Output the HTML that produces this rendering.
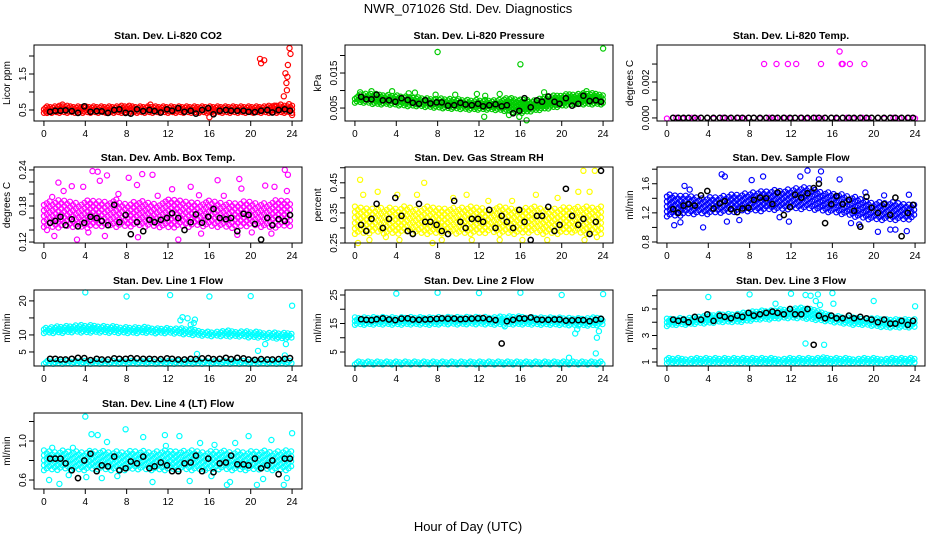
<!DOCTYPE html>
<html><head><meta charset="utf-8"><style>
html,body{margin:0;padding:0;background:#fff;}
svg{display:block;font-family:"Liberation Sans",sans-serif;}
</style></head><body>
<svg id="c" width="936" height="540" viewBox="0 0 936 540">
<text x="468" y="13" text-anchor="middle" font-size="13">NWR_071026 Std. Dev. Diagnostics</text>
<text x="468" y="531" text-anchor="middle" font-size="13">Hour of Day (UTC)</text>
</svg>
<script>
// shared x positions (hour) for black points
const blackX=[0.6,1.1,1.6,2.1,2.7,3.3,3.9,4.5,5.1,5.6,6.2,6.8,7.3,7.9,8.4,9.0,9.6,10.2,10.7,11.3,11.9,12.4,13.0,13.6,14.2,14.7,15.3,15.9,16.4,17.0,17.6,18.1,18.7,19.3,19.8,20.4,21.0,21.6,22.1,22.7,23.3,23.8];
const xTicks=[0,4,8,12,16,20,24];
const bandHours=[0,1,2,3,4,5,6,7,8,9,10,11,12,13,14,15,16,17,18,19,20,21,22,23,24];

const co2Black=[0.45,0.48,0.48,0.49,0.47,0.42,0.6,0.45,0.47,0.46,0.42,0.5,0.52,0.42,0.4,0.52,0.47,0.5,0.47,0.43,0.52,0.48,0.55,0.45,0.48,0.4,0.5,0.55,0.38,0.48,0.5,0.48,0.48,0.48,0.45,0.44,0.48,0.5,0.43,0.5,0.52,0.48];
const co2Lo=[0.42,0.42,0.42,0.42,0.42,0.42,0.42,0.42,0.42,0.42,0.42,0.42,0.42,0.42,0.42,0.42,0.42,0.42,0.42,0.42,0.42,0.42,0.42,0.42,0.42];
const co2Hi=[0.6,0.6,0.62,0.6,0.6,0.6,0.6,0.6,0.62,0.6,0.6,0.6,0.6,0.6,0.6,0.6,0.6,0.6,0.6,0.6,0.6,0.6,0.62,0.62,0.62];
const co2Out=[[0.3,0.42],[1.8,0.65],[10.3,0.65],[16,0.3],[20.9,1.92],[21,1.8],[21.3,1.88],[22.3,0.62],[23.2,0.88],[23.35,1.52],[23.45,1.25],[23.5,1.05],[23.55,1.42],[23.6,1.75],[23.7,0.66],[23.75,2.22],[23.85,2.06],[24,0.36],[22.9,0.65]];

const presBlack=[0.0082,0.0075,0.0075,0.0088,0.0072,0.0072,0.0068,0.0078,0.0073,0.0065,0.0062,0.0072,0.0063,0.0066,0.0066,0.0057,0.0058,0.0065,0.006,0.0058,0.0062,0.0055,0.0058,0.0061,0.0055,0.0058,0.0035,0.0042,0.0078,0.0052,0.0072,0.0068,0.0083,0.0068,0.0062,0.0078,0.0057,0.0062,0.0085,0.007,0.0072,0.0068];
const presLo=[0.0065,0.0065,0.006,0.006,0.0058,0.0055,0.0055,0.0052,0.005,0.0048,0.0047,0.0045,0.0045,0.0045,0.0043,0.004,0.0035,0.004,0.0045,0.005,0.0055,0.006,0.006,0.006,0.006];
const presHi=[0.0085,0.009,0.009,0.0088,0.0085,0.0083,0.008,0.0078,0.0077,0.0075,0.0075,0.0073,0.0072,0.0072,0.0075,0.0078,0.0075,0.007,0.0078,0.0085,0.0088,0.009,0.0092,0.0092,0.009];
const presOut=[[8,0.021],[16,0.0175],[24,0.022],[0.5,0.0095],[1.6,0.0098],[3.6,0.0098],[5.2,0.0092],[5.8,0.0094],[7.8,0.0088],[9.7,0.0088],[11.8,0.009],[12.6,0.0085],[14,0.009],[15.9,0.0025],[16.6,0.0015],[12.5,0.0025],[18.3,0.0095],[22.4,0.0098],[14.9,0.003]];

const tempBlack=[0,0,0,0,0,0,0,0,0,0,0,0,0,0,0,0,0,0,0,0,0,0,0,0,0,0,0,0,0,0,0,0,0,0,0,0,0,0,0,0,0,0];
const tempLo=[-0.00003,-0.00003,-0.00003,-0.00003,-0.00003,-0.00003,-0.00003,-0.00003,-0.00003,-0.00003,-0.00003,-0.00003,-0.00003,-0.00003,-0.00003,-0.00003,-0.00003,-0.00003,-0.00003,-0.00003,-0.00003,-0.00003,-0.00003,-0.00003,-0.00003];
const tempHi=[0.00003,0.00003,0.00003,0.00003,0.00003,0.00003,0.00003,0.00003,0.00003,0.00003,0.00003,0.00003,0.00003,0.00003,0.00003,0.00003,0.00003,0.00003,0.00003,0.00003,0.00003,0.00003,0.00003,0.00003,0.00003];
const tempOut=[[9.4,0.003],[10.6,0.003],[11.7,0.003],[12.5,0.003],[14.9,0.003],[16.7,0.0037],[16.9,0.003],[17.0,0.003],[17.7,0.003],[19.1,0.003]];

const ambBlack=[0.152,0.155,0.162,0.148,0.158,0.146,0.152,0.162,0.16,0.155,0.148,0.182,0.153,0.165,0.133,0.153,0.138,0.157,0.153,0.157,0.16,0.168,0.16,0.14,0.153,0.166,0.152,0.162,0.175,0.16,0.158,0.16,0.138,0.167,0.165,0.15,0.124,0.16,0.148,0.158,0.155,0.165];
const ambLo=[0.145,0.143,0.145,0.145,0.143,0.145,0.147,0.145,0.145,0.147,0.145,0.145,0.143,0.145,0.145,0.147,0.145,0.145,0.143,0.145,0.147,0.145,0.143,0.145,0.147];
const ambHi=[0.185,0.19,0.188,0.185,0.19,0.19,0.188,0.19,0.185,0.19,0.188,0.185,0.19,0.19,0.188,0.185,0.19,0.188,0.185,0.188,0.19,0.185,0.188,0.19,0.185];
const ambOut=[[1.4,0.219],[1.9,0.205],[2.7,0.213],[3.8,0.212],[4.7,0.238],[5.2,0.237],[5.4,0.222],[6.1,0.231],[8.2,0.227],[9.0,0.215],[9.5,0.233],[10.5,0.232],[12.4,0.208],[14.2,0.212],[16.8,0.223],[18.9,0.225],[19.1,0.209],[21.4,0.214],[22.3,0.212],[23.3,0.24],[23.6,0.232],[23.5,0.205],[0.3,0.14],[1.0,0.13],[3.2,0.124],[4.3,0.136],[5.9,0.13],[9.1,0.128],[13.0,0.124],[15.2,0.134],[18.7,0.132],[20.1,0.136],[22.0,0.134],[0.8,0.195],[7.2,0.2],[11.0,0.197],[15.0,0.198],[17.4,0.197]];

const rhBlack=[0.31,0.29,0.33,0.38,0.3,0.33,0.4,0.34,0.29,0.28,0.38,0.32,0.32,0.31,0.29,0.28,0.39,0.32,0.3,0.33,0.33,0.32,0.36,0.3,0.34,0.32,0.3,0.36,0.32,0.26,0.34,0.34,0.37,0.29,0.31,0.43,0.34,0.31,0.33,0.28,0.32,0.49];
const rhLo=[0.28,0.28,0.285,0.28,0.28,0.285,0.28,0.28,0.28,0.285,0.28,0.28,0.28,0.285,0.28,0.28,0.28,0.285,0.28,0.28,0.28,0.285,0.28,0.28,0.28];
const rhHi=[0.37,0.37,0.36,0.37,0.37,0.37,0.36,0.37,0.37,0.36,0.37,0.37,0.37,0.36,0.37,0.37,0.36,0.37,0.37,0.36,0.37,0.37,0.37,0.37,0.37];
const rhOut=[[0.3,0.25],[0.5,0.46],[0.8,0.41],[2.2,0.42],[4.1,0.41],[1.4,0.26],[4.3,0.26],[6.0,0.41],[6.7,0.45],[8.4,0.26],[10.8,0.41],[11.3,0.26],[14.0,0.26],[15.2,0.39],[16.2,0.26],[17.5,0.41],[18.6,0.26],[19.6,0.4],[21.6,0.42],[22.1,0.49],[22.2,0.26],[23.2,0.49],[23.4,0.27],[22.7,0.42],[7.5,0.25],[12.9,0.39],[9.5,0.4],[3.0,0.27]];

const sfBlack=[1.25,1.2,1.3,1.32,1.3,1.44,1.5,1.26,1.33,1.36,1.25,1.21,1.26,1.27,1.38,1.41,1.4,1.32,1.48,1.17,1.28,1.45,1.41,1.47,1.54,1.6,1.06,1.32,1.43,1.32,1.38,1.23,1.01,1.42,1.27,1.2,1.32,1.17,1.41,0.88,1.2,1.31];
const sfLo=[1.15,1.15,1.18,1.18,1.18,1.2,1.2,1.22,1.22,1.22,1.24,1.24,1.25,1.25,1.25,1.22,1.2,1.18,1.15,1.12,1.1,1.1,1.1,1.1,1.12];
const sfHi=[1.45,1.45,1.45,1.42,1.42,1.42,1.45,1.45,1.48,1.5,1.5,1.52,1.52,1.55,1.55,1.5,1.48,1.45,1.42,1.38,1.35,1.35,1.35,1.33,1.33];
const sfOut=[[0.7,1.03],[1.3,1.07],[1.7,1.57],[3.5,1.0],[5.3,1.73],[5.6,1.7],[5.8,1.08],[8.2,1.65],[9.3,1.7],[11.8,1.08],[12.9,1.7],[13.6,1.78],[14.7,1.66],[14.9,1.77],[16.7,1.66],[17.8,1.06],[18.6,1.04],[20.4,0.94],[21.0,1.44],[21.6,0.97],[22.1,0.97],[23.2,0.95],[23.4,1.45],[19.2,1.48],[10.9,1.14],[2.2,1.52],[7.0,1.1]];

const l1Black=[3,3,2.8,2.8,3,3.3,3.2,2.6,3,2.8,2.8,3.1,3,3,3.2,3.1,3,3,2.9,2.9,3.1,3,2.8,2.8,3,2.9,3.1,3.2,2.9,3,3.3,2.9,3.3,3.1,2.8,2.7,2.9,2.8,2.8,2.9,3,3.2];
const l1UpLo=[10.5,10.5,10.6,10.8,10.6,10.7,10.6,10.6,10.5,10.5,10.6,10.4,10.5,10.3,10,9.8,9.6,9.6,9.5,9.5,9.2,9.2,9,8.8,9];
const l1UpHi=[12.2,12.4,12.6,12.8,12.8,12.8,12.6,12.4,12.3,12.3,12.3,12,12,12,11.8,11.2,11,11,11.2,11,11,10.8,10.6,10.6,10.5];
const l1LoLo=[1.5,1.5,1.5,1.5,1.5,1.5,1.5,1.5,1.5,1.5,1.5,1.5,1.5,1.5,1.5,1.5,1.5,1.5,1.5,1.5,1.5,1.5,1.5,1.5,1.5];
const l1LoHi=[2.4,2.4,2.4,2.4,2.4,2.4,2.4,2.4,2.4,2.4,2.4,2.4,2.4,2.4,2.4,2.4,2.4,2.4,2.4,2.4,2.4,2.4,2.4,2.4,2.4];
const l1Out=[[4,22.5],[8,21.3],[12.2,21.7],[16,21.3],[20,21.4],[24,18.6],[13.2,14.3],[13.4,15.2],[13.9,14.9],[14.5,13.5],[14.6,14.5],[14.2,13],[14.8,4.4],[20.7,5.3],[21.4,7.3],[23.3,4],[23.4,7.3]];

const l2Black=[16.5,16.3,16.2,16.5,16.8,16.4,16.2,16.7,16.8,16.4,16.3,16.4,16.5,16.6,16.8,16.7,16.7,16.5,16.6,16.7,16.8,16.9,16.5,16.2,8,15.8,16.3,16.8,16.7,17.1,16.4,16.3,16.3,16.4,16.4,16,16.1,16.2,16.2,15.8,16.3,16.6];
const l2UpLo=[14.5,14.5,14.6,14.6,14.5,14.6,14.6,14.5,14.6,14.7,14.6,14.7,14.7,14.6,14.5,14.6,14.6,14.6,14.5,14.5,14.4,14.3,14.2,14.2,14.5];
const l2UpHi=[17,17,17.1,17.2,17.2,17.2,17.1,17.1,17.2,17.3,17.3,17.3,17.4,17.3,17.4,17.4,17.4,17.3,17.2,17.1,17,16.9,16.9,17,17.2];
const l2LoLo=[0.6,0.6,0.6,0.6,0.6,0.6,0.6,0.6,0.6,0.6,0.6,0.6,0.6,0.6,0.6,0.6,0.6,0.6,0.6,0.6,0.6,0.6,0.6,0.6,0.6];
const l2LoHi=[1.6,1.6,1.6,1.6,1.6,1.6,1.6,1.6,1.6,1.6,1.6,1.6,1.6,1.6,1.6,1.6,1.6,1.6,1.6,1.6,1.6,1.6,1.6,1.6,1.6];
const l2Out=[[4,25.5],[8,25.8],[12,25.7],[16,25.8],[20,25],[24,25.3],[21.3,11.5],[21.5,13],[23.4,10],[23.6,12.3],[23.3,4.5],[20.7,3],[14.5,14]];

const l3Black=[4.2,4.1,4.2,4.0,4.4,4.2,4.6,4.1,4.5,4.4,4.3,4.5,4.4,4.7,4.5,4.6,4.7,4.8,4.7,4.6,5.0,4.6,4.6,5.0,2.3,4.5,4.3,4.5,4.3,4.3,4.5,4.3,4.4,4.3,4.2,4.0,4.2,3.9,3.9,4.1,3.8,4.1];
const l3UpLo=[3.7,3.8,3.8,3.9,3.9,4,4,4,4.1,4.2,4.2,4.3,4.3,4.3,4.2,4.1,4,3.9,3.8,3.8,3.7,3.6,3.6,3.6,3.6];
const l3UpHi=[4.3,4.3,4.3,4.4,4.5,4.6,4.6,4.7,4.8,4.9,4.9,5,5,5.1,5,4.8,4.5,4.4,4.4,4.3,4.3,4.2,4.2,4.2,4.2];
const l3LoLo=[0.9,0.9,0.9,0.9,0.9,0.9,0.9,0.9,0.9,0.9,0.9,0.9,0.9,0.9,0.9,0.9,0.9,0.9,0.9,0.9,0.9,0.9,0.9,0.9,0.9];
const l3LoHi=[1.3,1.3,1.25,1.3,1.3,1.25,1.3,1.3,1.25,1.3,1.3,1.25,1.3,1.3,1.3,1.35,1.3,1.3,1.25,1.3,1.3,1.25,1.3,1.3,1.3];
const l3Out=[[4,5.9],[8,6.1],[12,6.15],[13.4,6.05],[13.9,6.0],[14.6,6.1],[16,6.2],[14.4,5.6],[10.5,5.4],[16.1,5.4],[20,5.6],[24,5.2],[13.4,2.4],[15.2,2.3],[14.8,5.3]];

const l4Black=[0.82,0.82,0.82,0.77,0.7,0.62,0.8,0.87,0.69,0.75,0.74,0.84,0.7,0.72,0.79,0.77,0.84,0.72,0.74,0.78,0.75,0.69,0.69,0.77,0.78,0.85,0.69,0.82,0.68,0.77,0.78,0.85,0.76,0.76,0.75,0.82,0.72,0.75,0.8,0.66,0.82,0.82];
const l4Lo=[0.7,0.7,0.71,0.7,0.7,0.71,0.7,0.7,0.7,0.71,0.7,0.7,0.7,0.71,0.7,0.7,0.7,0.71,0.7,0.7,0.7,0.71,0.7,0.7,0.7];
const l4Hi=[0.9,0.89,0.9,0.9,0.89,0.9,0.9,0.89,0.9,0.9,0.89,0.9,0.9,0.89,0.9,0.9,0.89,0.9,0.9,0.89,0.9,0.9,0.89,0.9,0.9];
const l4Out=[[4,1.25],[4.6,1.07],[5.2,1.06],[7.9,1.12],[6.1,0.99],[9.6,1.04],[11.7,1.06],[13.1,1.05],[15.1,0.98],[18.5,0.98],[19.8,1.05],[22.0,1.01],[24,1.08],[0.5,0.6],[1.5,0.56],[2.4,0.65],[4.1,0.63],[5.6,0.62],[7.1,0.64],[10.5,0.58],[14.1,0.59],[16.2,0.64],[17.7,0.55],[18.0,0.58],[20.6,0.55],[21.2,0.61],[23.2,0.55],[23.5,0.62],[0.8,0.93],[2.8,0.93],[11.8,0.95],[16.5,0.96]];

const panels=[
 {title:"Stan. Dev. Li-820 CO2",ylab:"Licor ppm",col:"#ff0000",row:0,colIdx:0,ymin:0.194,ymax:2.306,ticks:[0.5,1,1.5,2],labels:["0.5","1.5"],bands:[[co2Lo,co2Hi]],out:co2Out,black:co2Black,dx:0.15,dy:3.6},
 {title:"Stan. Dev. Li-820 Pressure",ylab:"kPa",col:"#00cc00",row:0,colIdx:1,ymin:0.0013,ymax:0.023,ticks:[0.005,0.01,0.015,0.02],labels:["0.005","0.015"],bands:[[presLo,presHi]],out:presOut,black:presBlack,dx:0.17,dy:3.8},
 {title:"Stan. Dev. Li-820 Temp.",ylab:"degrees C",col:"#ff00ff",row:0,colIdx:2,ymin:-0.00017,ymax:0.00406,ticks:[0,0.001,0.002,0.003],labels:["0.000","0.002"],bands:[[tempLo,tempHi]],out:tempOut,black:tempBlack,dx:0.3,dy:4},
 {title:"Stan. Dev. Amb. Box Temp.",ylab:"degrees C",col:"#ff00ff",row:1,colIdx:0,ymin:0.1184,ymax:0.2449,ticks:[0.12,0.14,0.16,0.18,0.2,0.22,0.24],labels:["0.12","0.18","0.24"],bands:[[ambLo,ambHi]],out:ambOut,black:ambBlack,dx:0.28,dy:5.5},
 {title:"Stan. Dev. Gas Stream RH",ylab:"percent",col:"#ffff00",row:1,colIdx:1,ymin:0.25,ymax:0.5025,ticks:[0.25,0.3,0.35,0.4,0.45,0.5],labels:["0.25","0.35","0.45"],bands:[[rhLo,rhHi]],out:rhOut,black:rhBlack,dx:0.28,dy:5.5},
 {title:"Stan. Dev. Sample Flow",ylab:"ml/min",col:"#0000ff",row:1,colIdx:2,ymin:0.786,ymax:1.83,ticks:[0.8,1,1.2,1.4,1.6,1.8],labels:["0.8","1.2","1.6"],bands:[[sfLo,sfHi]],out:sfOut,black:sfBlack,dx:0.26,dy:5},
 {title:"Stan. Dev. Line 1 Flow",ylab:"ml/min",col:"#00ffff",row:2,colIdx:0,ymin:0.88,ymax:23.2,ticks:[5,10,15,20],labels:["5","10","20"],bands:[[l1UpLo,l1UpHi],[l1LoLo,l1LoHi]],out:l1Out,black:l1Black,dx:0.18,dy:3.8},
 {title:"Stan. Dev. Line 2 Flow",ylab:"ml/min",col:"#00ffff",row:2,colIdx:1,ymin:0.09,ymax:26.75,ticks:[5,10,15,20,25],labels:["5","15","25"],bands:[[l2UpLo,l2UpHi],[l2LoLo,l2LoHi]],out:l2Out,black:l2Black,dx:0.18,dy:3.8},
 {title:"Stan. Dev. Line 3 Flow",ylab:"ml/min",col:"#00ffff",row:2,colIdx:2,ymin:0.7,ymax:6.43,ticks:[1,2,3,4,5,6],labels:["1","3","5"],bands:[[l3UpLo,l3UpHi],[l3LoLo,l3LoHi]],out:l3Out,black:l3Black,dx:0.18,dy:3.8},
 {title:"Stan. Dev. Line 4 (LT) Flow",ylab:"ml/min",col:"#00ffff",row:3,colIdx:0,ymin:0.508,ymax:1.287,ticks:[0.6,0.8,1,1.2],labels:["0.6","1.0"],bands:[[l4Lo,l4Hi]],out:l4Out,black:l4Black,dx:0.26,dy:5}
];
const rowTops=[45,167,290,413], boxH=76, colLefts=[34,345,657], boxW=268;
const NS="http://www.w3.org/2000/svg";
const svg=document.getElementById("c");
function mk(tag,attrs,parent){const e=document.createElementNS(NS,tag);for(const k in attrs)e.setAttribute(k,attrs[k]);(parent||svg).appendChild(e);return e;}
function interp(arr,h){const i=Math.min(23,Math.floor(h));const f=h-i;return arr[i]*(1-f)+arr[i+1]*f;}

panels.forEach((p,pi)=>{
 const L=colLefts[p.colIdx],T=rowTops[p.row],R=L+boxW,B=T+boxH;
 const xs=h=>L+(h+0.96)/25.92*boxW;
 const ys=v=>B-(v-p.ymin)/(p.ymax-p.ymin)*boxH;
 const g=mk("g",{});
 
 
 const t=mk("text",{x:(L+R)/2,y:T-6,"text-anchor":"middle","font-size":"10.5","font-weight":"bold"},g);
 t.textContent=p.title;
 
 
 const yl=mk("text",{x:0,y:0,"text-anchor":"middle","font-size":"10",transform:`translate(${L-24},${(T+B)/2}) rotate(-90)`},g);
 yl.textContent=p.ylab;
 
 
 const cg=mk("g",{fill:"none",stroke:p.col,"stroke-width":"1.2"},g);
 
 
 p.bands.forEach(b=>{
  let k=0;
  for(let h=0;h<=24.001;h+=p.dx){
   const top=ys(interp(b[1],h)),bot=ys(interp(b[0],h));
   const off=((k*7)%5)/5*p.dy;
   for(let y=bot-off;y>=top-0.5;y-=p.dy){
    mk("circle",{cx:xs(h).toFixed(1),cy:y.toFixed(1),r:"2.5"},cg);
   }
   k++;
  }
 });
 p.out.forEach(o=>{
  const c=mk("circle",{cx:xs(o[0]).toFixed(1),cy:ys(o[1]).toFixed(1),r:"2.6"},cg);
  
  
 });
 const bg=mk("g",{fill:"none",stroke:"#000","stroke-width":"1.5"},g);
 
 
 p.black.forEach((v,i)=>{
  const c=mk("circle",{cx:xs(blackX[i]).toFixed(1),cy:ys(v).toFixed(1),r:"2.6"},bg);
  
  
 });
 const box=mk("rect",{x:L,y:T,width:boxW,height:boxH,fill:"none",stroke:"#000","stroke-width":"1"},g);
 
 
 xTicks.forEach(h=>{
  mk("line",{x1:xs(h),x2:xs(h),y1:B,y2:B+5,stroke:"#000"},g);
  const tl=mk("text",{x:xs(h),y:B+16,"text-anchor":"middle","font-size":"10"},g);
  tl.textContent=h;
  
  
 });
 p.ticks.forEach(v=>{mk("line",{x1:L-5,x2:L,y1:ys(v),y2:ys(v),stroke:"#000"},g);});
 p.labels.forEach(s=>{
  const v=parseFloat(s);
  const tl=mk("text",{x:0,y:0,"text-anchor":"middle","font-size":"10",transform:`translate(${L-8},${ys(v)}) rotate(-90)`},g);
  tl.textContent=s;
  
  
 });
});
</script>
</body></html>
